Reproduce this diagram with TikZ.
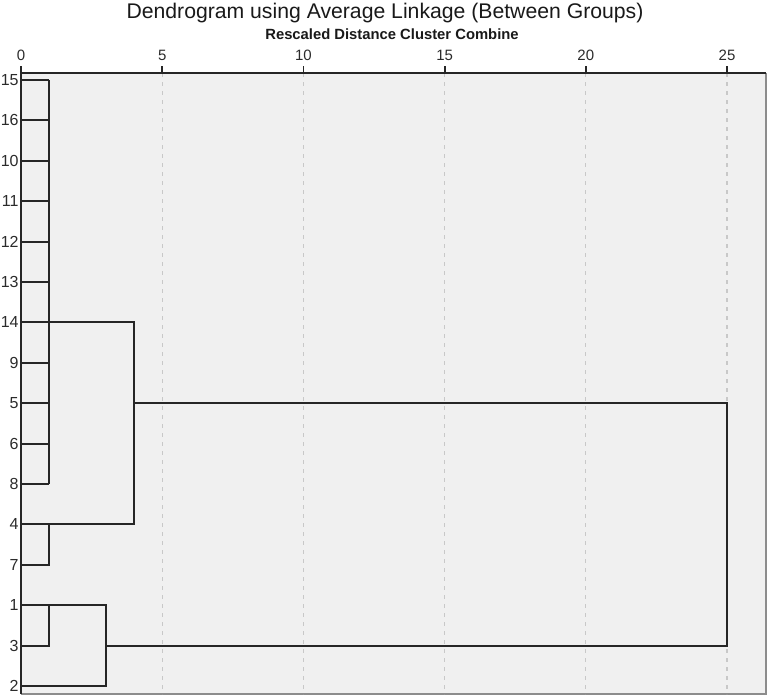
\documentclass[tikz,border=0pt]{standalone}
\usepackage{fontspec}
\setmainfont{Liberation Sans}
\usetikzlibrary{calc}
\definecolor{plotbg}{HTML}{F0F0F0}
\definecolor{lnkgray}{HTML}{262626}
\definecolor{gridgray}{HTML}{C8C8C8}
\definecolor{framegray}{HTML}{8C8C8C}
\definecolor{txtgray}{HTML}{2B2B2B}

\begin{document}
\begin{tikzpicture}[
  x=0.5pt, y=-0.5pt,
  link/.style={draw=lnkgray, line width=1pt},
  gridline/.style={draw=gridgray, line width=0.6pt, dash pattern=on 2pt off 2.5pt},
  frameline/.style={draw=framegray, line width=0.8pt},
  leaflab/.style={font=\fontsize{8}{9}\selectfont, text=txtgray, anchor=east, inner sep=0pt},
  ticklab/.style={font=\fontsize{7.5}{9}\selectfont, text=txtgray, inner sep=0pt},
  title/.style={font=\fontsize{10.6}{12}\selectfont, text=black!90, inner sep=0pt},
  subtitle/.style={font=\fontsize{7.4}{9}\selectfont\bfseries, text=black!90, inner sep=0pt},
]
\useasboundingbox (0,0) rectangle (767,697);

% Plot area
\fill[plotbg] (21,73) rectangle (766,694);
\draw[frameline] (766,73) -- (766,694) -- (21,694);

% Titles
\node[title] (title) at (385,13) {Dendrogram using Average Linkage (Between Groups)};
\node[subtitle] (subtitle) at (392,34) {Rescaled Distance Cluster Combine};

% Distance scale, gridlines
\foreach \t in {0,5,...,25} {
  \pgfmathsetmacro{\xt}{21+28.24*\t}
  \coordinate (tick\t) at (\xt,73);
  \node[ticklab] (tlab\t) at (\xt,55) {\t};
  \draw[link, line width=0.9pt] (\xt,66) -- (tick\t);
}
\foreach \t in {5,10,...,25} {
  \draw[gridline] (tick\t) -- (tick\t |- 0,694);
}
\draw[link] (21,73) -- (766,73);
\draw[link] (21,73) -- (21,694);

% Merge levels
\coordinate (d1) at (49,73);
\coordinate (d3) at (106,73);
\coordinate (d4) at (134,73);
\coordinate (d25) at (727,73);

% Leaves
\foreach \lab [count=\i from 0] in {15,16,10,11,12,13,14,9,5,6,8,4,7,1,3,2} {
  \pgfmathsetmacro{\yl}{80+40.4*\i}
  \coordinate (c\lab) at (21,\yl);
  \node[leaflab] (lab\lab) at (19,\yl) {\lab};
}

% Cluster of eleven at level 1
\foreach \lab in {15,16,10,11,12,13,14,9,5,6,8} {
  \draw[link] (c\lab) -- (c\lab -| d1);
}
\draw[link] (c15 -| d1) -- (c8 -| d1);

% Pairs at level 1
\draw[link] (c4) -| (d1 |- c7) -- (c7);
\draw[link] (c1) -| (d1 |- c3) -- (c3);

% Higher merges
\draw[link] (c1 -| d1) -| (d3 |- c2) -- (c2);
\draw[link] (c14 -| d1) -| (d4 |- c4) -- (c4 -| d1);
\draw[link] (c5 -| d4) -| (d25 |- c3) -- (c3 -| d3);

\end{tikzpicture}
\end{document}
